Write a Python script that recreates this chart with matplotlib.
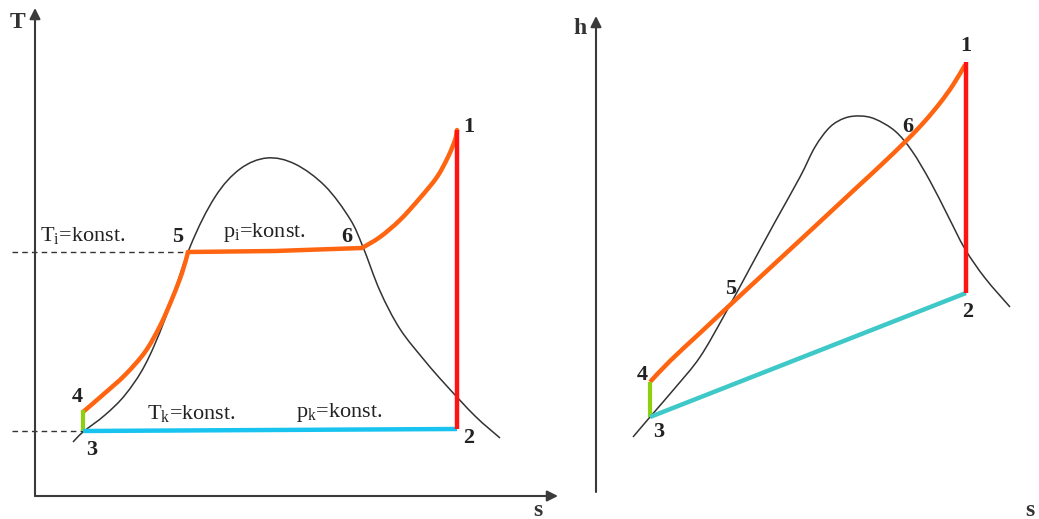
import matplotlib
matplotlib.use("Agg")
import matplotlib.pyplot as plt
from matplotlib.path import Path
from matplotlib.patches import PathPatch

plt.rcParams['font.family'] = ['Liberation Serif', 'DejaVu Serif']
plt.rcParams['mathtext.fontset'] = 'custom'
plt.rcParams['mathtext.rm'] = 'Liberation Serif'
plt.rcParams['mathtext.it'] = 'Liberation Serif'

H = 519  # values are read as height above the bottom edge of the picture

# ---------------- T-s diagram (left) ----------------
ts_dome_s = [73, 83, 105, 125, 145, 165, 190, 215, 240, 267, 295, 325, 350, 363, 380, 400, 425, 445, 475, 500]
ts_dome_T = [77, 87, 104, 124, 154, 200, 272, 322, 350, 361, 355, 333, 300, 272, 228, 190, 158, 135, 103, 81]

ts_45_s = [83, 105, 125, 145, 160, 172, 182, 188]
ts_45_T = [107, 126, 144, 167, 193, 220, 246, 267]
ts_56_s = [188, 275, 362]
ts_56_T = [267, 268, 271]
ts_61_s = [362, 380, 400, 420, 437, 448, 455, 457]
ts_61_T = [271, 282, 299, 321, 342, 362, 379, 389]
ts_12_s = [457, 457]
ts_12_T = [389, 90]
ts_23_s = [83, 457]
ts_23_T = [88, 90]
ts_34_s = [83, 83]
ts_34_T = [88, 109]

# ---------------- h-s diagram (right) ----------------
hs_dome_s = [633, 650, 675, 700, 725, 750, 775, 800, 815, 830, 845, 860, 875, 895, 912, 930, 948, 965, 985, 1010]
hs_dome_h = [82, 102, 131, 162, 205, 251, 297, 342, 372, 392, 401, 403, 400, 388, 368, 338, 303, 270, 241, 212]

hs_41_s = [650, 670, 700, 730, 770, 810, 853, 880, 907, 925, 940, 953, 965]
hs_41_h = [137, 158, 186, 214, 251, 288, 328, 353, 379, 398, 416, 434, 454]
hs_12_s = [966, 966]
hs_12_h = [457, 226]
hs_23_s = [966, 650]
hs_23_h = [226, 102]
hs_34_s = [650, 650]
hs_34_h = [102, 137]

ORANGE = '#ff6410'
RED = '#ff1414'
BLUE = '#18c4ef'
TEAL = '#3ec8c8'
GREEN = '#8cd010'
AX = '#3a3a3a'


def smooth_path(xs, ys):
    """Cubic Bezier path passing through every read point (Catmull-Rom tangents)."""
    pts = list(zip(xs, ys))
    verts = [pts[0]]
    codes = [Path.MOVETO]
    n = len(pts)
    for i in range(n - 1):
        p0 = pts[i - 1] if i > 0 else pts[i]
        p1 = pts[i]
        p2 = pts[i + 1]
        p3 = pts[i + 2] if i + 2 < n else pts[i + 1]
        c1 = (p1[0] + (p2[0] - p0[0]) / 6, p1[1] + (p2[1] - p0[1]) / 6)
        c2 = (p2[0] - (p3[0] - p1[0]) / 6, p2[1] - (p3[1] - p1[1]) / 6)
        verts += [c1, c2, p2]
        codes += [Path.CURVE4] * 3
    return Path(verts, codes)


def curve(ax, xs, ys, **kw):
    ax.add_patch(PathPatch(smooth_path(xs, ys), fill=False, **kw))


fig = plt.figure(figsize=(10.39, 5.19), dpi=100)
axL = fig.add_axes([0, 0, 560 / 1039, 1])
axR = fig.add_axes([560 / 1039, 0, 479 / 1039, 1])
axL.set_xlim(0, 560)
axR.set_xlim(560, 1039)
for ax in (axL, axR):
    ax.set_ylim(0, H)
    ax.axis('off')

arrow = dict(arrowstyle='-|>', color=AX, lw=1.5, mutation_scale=16, shrinkA=0, shrinkB=0)

# Left axes
axL.annotate('', xy=(35, H - 8), xytext=(35, H - 496), arrowprops=arrow)
axL.annotate('', xy=(558, H - 496), xytext=(35, H - 496), arrowprops=arrow)
axL.text(18, H - 22, 'T', fontsize=17, fontweight='bold', color='#333', ha='center', va='center')
axL.text(538, H - 510, 's', fontsize=17, fontweight='bold', color='#333', ha='center', va='center')

axL.plot([12, 188], [267, 267], ls=(0, (4, 3)), color='#333', lw=1)
axL.plot([12, 83], [88, 88], ls=(0, (4, 3)), color='#333', lw=1)

curve(axL, ts_dome_s, ts_dome_T, edgecolor='#333', lw=1.1)
axL.plot(ts_34_s, ts_34_T, color=GREEN, lw=3, solid_capstyle='butt')
axL.plot(ts_23_s, ts_23_T, color=BLUE, lw=3.2, solid_capstyle='butt')
axL.plot(ts_12_s, ts_12_T, color=RED, lw=3.2, solid_capstyle='butt')
curve(axL, ts_45_s, ts_45_T, edgecolor=ORANGE, lw=3.2, capstyle='round', joinstyle='round')
axL.plot(ts_56_s, ts_56_T, color=ORANGE, lw=3.2, solid_capstyle='round')
curve(axL, ts_61_s, ts_61_T, edgecolor=ORANGE, lw=3.2, capstyle='round', joinstyle='round')

num = dict(fontsize=16, fontweight='bold', ha='center', va='center', color='#222')
axL.text(469, H - 127, '1', **num)
axL.text(469, H - 438, '2', **num)
axL.text(92, H - 450, '3', **num)
axL.text(77, H - 397, '4', **num)
axL.text(178, H - 237, '5', **num)
axL.text(347, H - 237, '6', **num)

lab = dict(fontsize=16, ha='left', va='center', color='#222')
axL.text(40, H - 236, r'T$_{\mathregular{i}}$=konst.', **lab)
axL.text(223, H - 233, r'p$_{\mathregular{i}}$=konst.', **lab)
axL.text(147, H - 413, r'T$_{\mathregular{k}}$=konst.', **lab)
axL.text(296, H - 413, r'p$_{\mathregular{k}}$=konst.', **lab)

# Right axes
axR.annotate('', xy=(596, H - 16), xytext=(596, H - 492), arrowprops=arrow)
axR.annotate('', xy=(1045, H - 492), xytext=(596, H - 492), arrowprops=arrow)
axR.text(580, H - 29, 'h', fontsize=17, fontweight='bold', color='#333', ha='center', va='center')
axR.text(1030, H - 510, 's', fontsize=17, fontweight='bold', color='#333', ha='center', va='center')

curve(axR, hs_dome_s, hs_dome_h, edgecolor='#333', lw=1.1)
axR.plot(hs_34_s, hs_34_h, color=GREEN, lw=3, solid_capstyle='butt')
axR.plot(hs_23_s, hs_23_h, color=TEAL, lw=3.2, solid_capstyle='butt')
axR.plot(hs_12_s, hs_12_h, color=RED, lw=3.2, solid_capstyle='butt')
curve(axR, hs_41_s, hs_41_h, edgecolor=ORANGE, lw=3.2, capstyle='butt', joinstyle='round')

axR.text(966, H - 46, '1', **num)
axR.text(968, H - 312, '2', **num)
axR.text(659, H - 432, '3', **num)
axR.text(642, H - 375, '4', **num)
axR.text(731, H - 289, '5', **num)
axR.text(908, H - 127, '6', **num)

fig.savefig('out.png', dpi=100)
